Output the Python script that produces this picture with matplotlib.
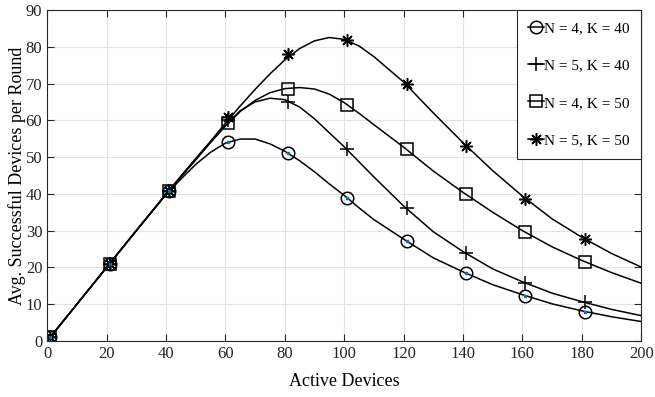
import matplotlib
matplotlib.use('Agg')
import matplotlib.pyplot as plt

plt.rcParams['font.family'] = ['Liberation Serif', 'DejaVu Serif']

# simulated points (markers)
x_sim = [1, 21, 41, 61, 81, 101, 121, 141, 161, 181]
n4k40_sim = [1.0, 21.0, 40.7, 54.2, 51.2, 39.0, 27.2, 18.4, 12.3, 8.0]
n5k40_sim = [1.0, 21.0, 40.7, 60.0, 65.1, 52.2, 36.1, 23.9, 15.8, 10.5]
n4k50_sim = [1.0, 21.0, 40.7, 59.2, 68.6, 64.2, 52.2, 39.9, 29.5, 21.5]
n5k50_sim = [1.0, 21.0, 40.7, 60.9, 78.1, 81.7, 69.8, 53.1, 38.7, 27.8]

# analytical curves
x_an = [0, 10, 20, 30, 40, 45, 50, 55, 60, 65, 70, 75, 80, 85, 90, 95, 100,
        105, 110, 120, 130, 140, 150, 160, 170, 180, 190, 200]
n4k40_an = [0, 10, 20, 30, 39.8, 44.0, 48.0, 51.3, 53.8, 54.9, 54.9, 53.6, 51.6,
            49.0, 46.0, 42.7, 39.6, 36.2, 33.0, 27.7, 22.6, 18.8, 15.3, 12.6,
            10.1, 8.2, 6.6, 5.3]
n5k40_an = [0, 10, 20, 30, 39.9, 44.6, 49.2, 54.0, 58.6, 62.6, 65.0, 66.0, 65.6,
            63.6, 60.4, 56.6, 52.8, 48.7, 44.6, 36.7, 29.7, 24.3, 19.6, 16.1,
            13.0, 10.7, 8.6, 6.9]
n4k50_an = [0, 10, 20, 30, 39.9, 44.7, 49.4, 54.0, 58.4, 62.4, 65.4, 67.5, 68.6,
            68.9, 68.5, 67.1, 64.8, 61.9, 58.8, 52.7, 46.2, 40.4, 35.0, 30.0,
            25.6, 21.9, 18.6, 15.7]
n5k50_an = [0, 10, 20, 30, 39.9, 44.8, 49.6, 54.3, 59.2, 63.9, 68.4, 72.6, 76.4,
            79.5, 81.6, 82.5, 82.0, 80.2, 77.3, 70.4, 62.0, 53.9, 46.3, 39.4,
            33.2, 28.2, 23.8, 20.1]

labels = ['N = 4, K = 40', 'N = 5, K = 40', 'N = 4, K = 50', 'N = 5, K = 50']
markers = ['o', '+', 's', (8, 2, 0)]
msizes = [9, 10, 8, 9]

fig = plt.figure(figsize=(6.55, 3.97), dpi=100)
ax = fig.add_axes([0.072, 0.141, 0.907, 0.834])

an = [n4k40_an, n5k40_an, n4k50_an, n5k50_an]
sim = [n4k40_sim, n5k40_sim, n4k50_sim, n5k50_sim]
for ya, ys, m, ms, lab in zip(an, sim, markers, msizes, labels):
    ax.plot(x_an, ya, color='black', lw=1.1)
    ax.plot(x_sim, ys, linestyle='none', marker=m, ms=ms, mfc='none',
            mec='black', mew=1.1)
    ax.plot([], [], color='black', lw=1.1, marker=m, ms=ms, mfc='none',
            mec='black', mew=1.1, label=lab)
ax.plot(x_sim, n4k40_sim, linestyle='none', marker='s', ms=1.8,
        color='#0072bd')

ax.set_xlim(0, 200)
ax.set_ylim(0, 90)
ax.set_xticks(range(0, 201, 20))
ax.set_yticks(range(0, 91, 10))
ax.grid(True, color='#e3e3e3', lw=0.8)
ax.set_axisbelow(True)
ax.tick_params(direction='in', top=True, right=True, labelsize=12,
               colors='#262626', length=5, width=0.8)
for s in ax.spines.values():
    s.set_color('#262626')
    s.set_linewidth(0.8)
ax.set_xlabel('Active Devices', fontsize=13, labelpad=8)
ax.set_ylabel('Avg. Successful Devices per Round', fontsize=13, labelpad=0)

leg = ax.legend(loc='upper right', fontsize=11, handlelength=1.0,
                handletextpad=0.05, labelspacing=1.55, borderaxespad=0,
                borderpad=0.75, fancybox=False, edgecolor='#262626',
                framealpha=1)
leg.get_frame().set_linewidth(0.8)

fig.savefig('out.png', dpi=100)
